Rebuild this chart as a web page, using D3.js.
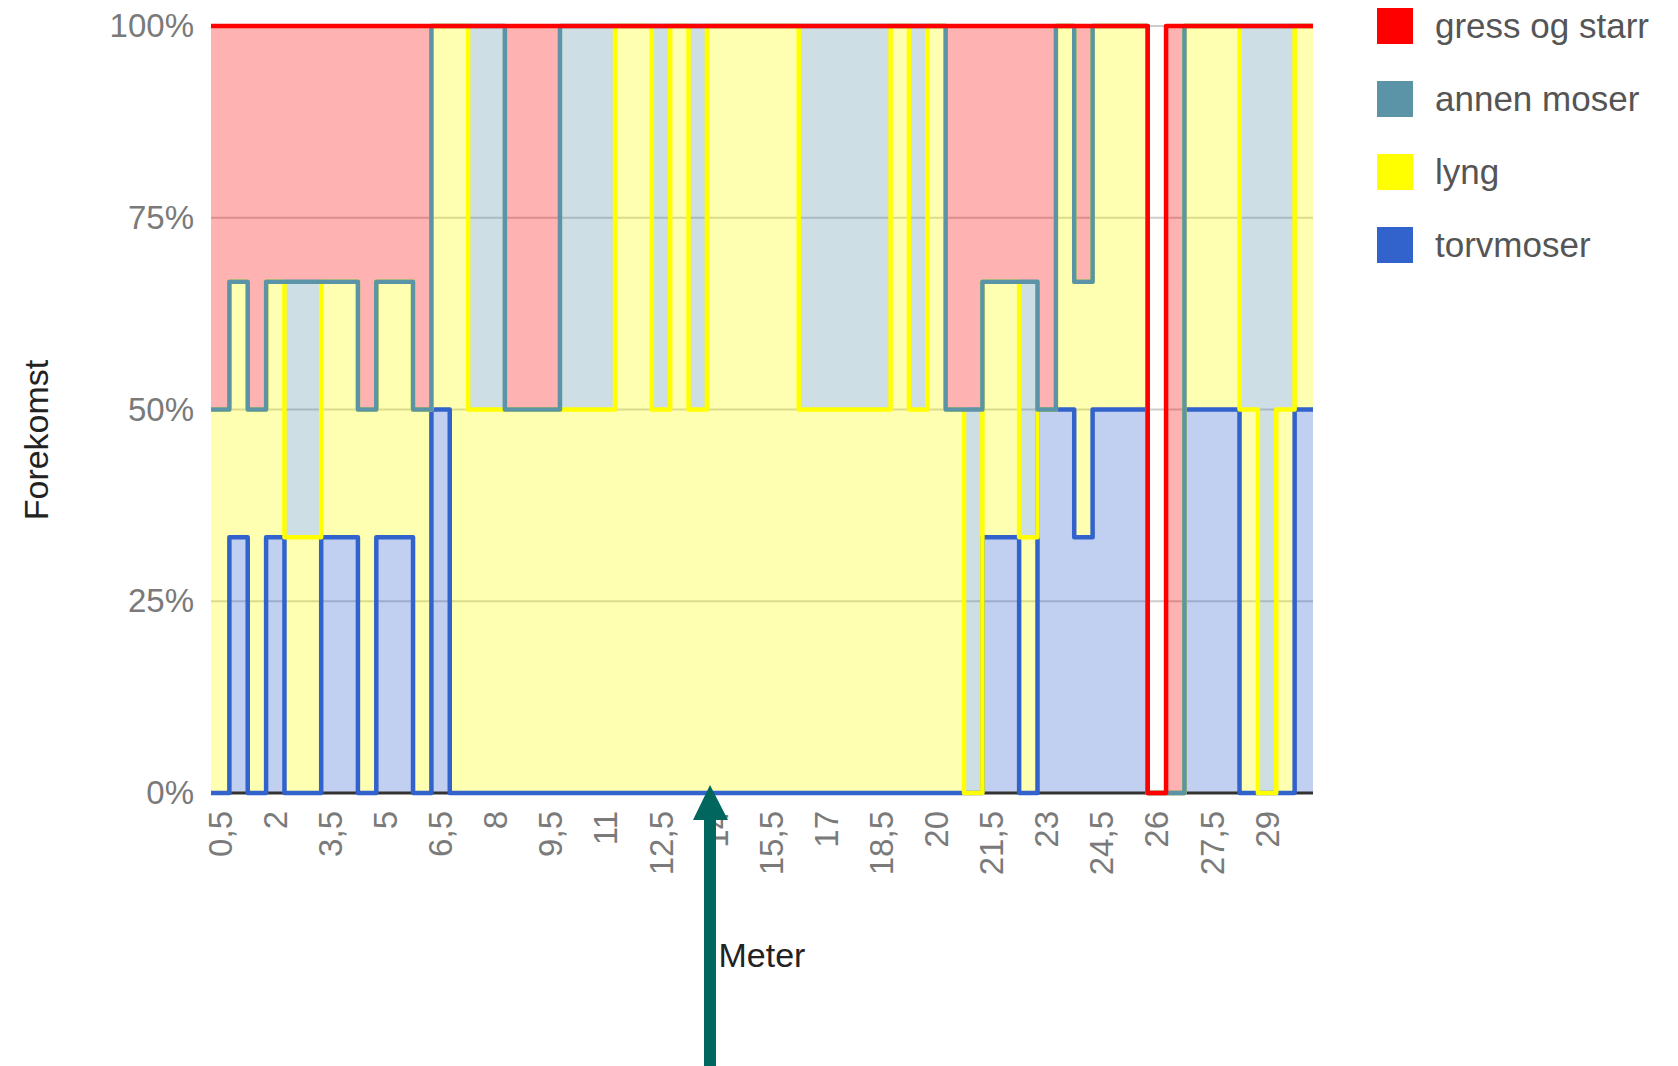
<!DOCTYPE html>
<html>
<head>
<meta charset="utf-8">
<script src="https://cdn.jsdelivr.net/npm/d3@7"></script>
<style>
    body { margin: 0; background: #fff; }
    svg { display: block; }
</style>
</head>
<body>
<div id="chart"></div>
<script>
// meter along the transect (one category per half meter)
var meters = [0.5, 1, 1.5, 2, 2.5, 3, 3.5, 4, 4.5, 5,
    5.5, 6, 6.5, 7, 7.5, 8, 8.5, 9, 9.5, 10,
    10.5, 11, 11.5, 12, 12.5, 13, 13.5, 14, 14.5, 15,
    15.5, 16, 16.5, 17, 17.5, 18, 18.5, 19, 19.5, 20,
    20.5, 21, 21.5, 22, 22.5, 23, 23.5, 24, 24.5, 25,
    25.5, 26, 26.5, 27, 27.5, 28, 28.5, 29, 29.5, 30];

var tickMeters = [0.5, 2, 3.5, 5, 6.5, 8, 9.5, 11, 12.5, 14, 15.5, 17, 18.5, 20, 21.5, 23, 24.5, 26, 27.5, 29];
var tickLabels = ["0,5", "2", "3,5", "5", "6,5", "8", "9,5", "11", "12,5", "14", "15,5", "17", "18,5", "20", "21,5", "23", "24,5", "26", "27,5", "29"];
var yTicks = [0, 0.25, 0.5, 0.75, 1];

// occurrence per meter (stacked as percent)
var torvmoser = [0, 1, 0, 1, 0, 0, 1, 1, 0, 1, 1, 0, 1, 0, 0, 0, 0, 0, 0, 0,
    0, 0, 0, 0, 0, 0, 0, 0, 0, 0, 0, 0, 0, 0, 0, 0, 0, 0, 0, 0,
    0, 0, 1, 1, 0, 1, 1, 1, 1, 1, 1, 0, 0, 1, 1, 1, 0, 0, 0, 1];
var lyng = [1, 1, 1, 1, 1, 1, 1, 1, 1, 1, 1, 1, 1, 1, 1, 1, 1, 1, 1, 1,
    1, 1, 1, 1, 1, 1, 1, 1, 1, 1, 1, 1, 1, 1, 1, 1, 1, 1, 1, 1,
    1, 0, 1, 1, 1, 0, 1, 1, 1, 1, 1, 0, 0, 1, 1, 1, 1, 0, 1, 1];
var annenMoser = [0, 0, 0, 0, 1, 1, 0, 0, 0, 0, 0, 0, 0, 0, 1, 1, 0, 0, 0, 1,
    1, 1, 0, 0, 1, 0, 1, 0, 0, 0, 0, 0, 1, 1, 1, 1, 1, 0, 1, 0,
    0, 1, 0, 0, 1, 0, 0, 0, 0, 0, 0, 0, 0, 0, 0, 0, 1, 1, 1, 0];
var gressOgStarr = [1, 1, 1, 1, 1, 1, 1, 1, 1, 1, 1, 1, 0, 0, 0, 0, 1, 1, 1, 0,
    0, 0, 0, 0, 0, 0, 0, 0, 0, 0, 0, 0, 0, 0, 0, 0, 0, 0, 0, 0,
    1, 1, 1, 1, 1, 1, 0, 1, 0, 0, 0, 0, 1, 0, 0, 0, 0, 0, 0, 0];

// bottom to top
var keys = ["torvmoser", "lyng", "annen moser", "gress og starr"];
var colors = {"torvmoser": "#3262cc", "lyng": "#ffff00", "annen moser": "#5a94a6", "gress og starr": "#ff0000"};
var legendOrder = ["gress og starr", "annen moser", "lyng", "torvmoser"];

var rows = meters.map(function (m, i) {
    return {"meter": m, "torvmoser": torvmoser[i], "lyng": lyng[i],
        "annen moser": annenMoser[i], "gress og starr": gressOgStarr[i]};
});

var W = 1678, H = 1066;
var plotLeft = 211, plotRight = 1313, plotTop = 26, plotBottom = 793;
var font = "Arial, 'Liberation Sans', sans-serif";

var svg = d3.select("#chart").append("svg")
    .attr("width", W)
    .attr("height", H);

var x = d3.scaleBand().domain(meters).range([plotLeft, plotRight]).padding(0);
var y = d3.scaleLinear().domain([0, 1]).range([plotBottom, plotTop]);
var bw = x.bandwidth();

var series = d3.stack().keys(keys).offset(d3.stackOffsetExpand)(rows);

//Gridlines
svg.append("g").selectAll("line")
    .data(yTicks)
    .join("line")
    .attr("x1", plotLeft)
    .attr("x2", plotRight)
    .attr("y1", function (d) { return y(d); })
    .attr("y2", function (d) { return y(d); })
    .attr("stroke", "#cccccc")
    .attr("stroke-width", 2);

// each category becomes a flat step across its band
function steps(s) {
    var pts = [];
    s.forEach(function (d) {
        var x0 = x(d.data.meter);
        pts.push({x: x0, y0: d[0], y1: d[1]});
        pts.push({x: x0 + bw, y0: d[0], y1: d[1]});
    });
    return pts;
}

var area = d3.area()
    .x(function (p) { return p.x; })
    .y0(function (p) { return y(p.y0); })
    .y1(function (p) { return y(p.y1); });

var line = d3.line()
    .x(function (p) { return p.x; })
    .y(function (p) { return y(p.y1); });

//Draw the areas
svg.append("g").selectAll("path")
    .data(series)
    .join("path")
    .attr("d", function (s) { return area(steps(s)); })
    .attr("fill", function (s) { return colors[s.key]; })
    .attr("fill-opacity", 0.3);

// baseline
svg.append("line")
    .attr("x1", plotLeft)
    .attr("x2", plotRight)
    .attr("y1", y(0))
    .attr("y2", y(0))
    .attr("stroke", "#333")
    .attr("stroke-width", 3);

//Draw the step lines
svg.append("g").selectAll("path")
    .data(series)
    .join("path")
    .attr("d", function (s) { return line(steps(s)); })
    .attr("fill", "none")
    .attr("stroke", function (s) { return colors[s.key]; })
    .attr("stroke-width", 4.5)
    .attr("stroke-linejoin", "round");

//Y axis
var yAxis = svg.append("g")
    .attr("transform", "translate(" + (plotLeft - 14) + ",0)")
    .call(d3.axisLeft(y).tickValues(yTicks).tickSize(0).tickFormat(d3.format(".0%")));
yAxis.select(".domain").remove();
yAxis.selectAll("text")
    .attr("font-family", font)
    .attr("font-size", 33)
    .attr("fill", "#7a7a7a");

//X axis
var xAxis = svg.append("g")
    .attr("transform", "translate(0," + plotBottom + ")")
    .call(d3.axisBottom(x).tickValues(tickMeters).tickSize(0)
        .tickFormat(function (d) { return tickLabels[tickMeters.indexOf(d)]; }));
xAxis.select(".domain").remove();
xAxis.selectAll("text")
    .attr("font-family", font)
    .attr("font-size", 33)
    .attr("fill", "#7a7a7a")
    .attr("text-anchor", "end")
    .attr("dy", "0.35em")
    .attr("transform", "translate(0,18) rotate(-90)")
    .attr("x", 0)
    .attr("y", 0);

//Axis titles
svg.append("text")
    .attr("font-family", font)
    .attr("font-size", 34)
    .attr("fill", "#222")
    .attr("text-anchor", "middle")
    .attr("x", (plotLeft + plotRight) / 2)
    .attr("y", 967)
    .text("Meter");

svg.append("text")
    .attr("font-family", font)
    .attr("font-size", 34)
    .attr("fill", "#222")
    .attr("text-anchor", "middle")
    .attr("transform", "translate(48,440) rotate(-90)")
    .text("Forekomst");

//Legend
var legend = svg.append("g").selectAll("g")
    .data(legendOrder)
    .join("g")
    .attr("transform", function (d, i) { return "translate(1377," + (8 + 73 * i) + ")"; });

legend.append("rect")
    .attr("width", 36)
    .attr("height", 36)
    .attr("fill", function (d) { return colors[d]; });

legend.append("text")
    .attr("font-family", font)
    .attr("font-size", 35)
    .attr("fill", "#555")
    .attr("x", 58)
    .attr("y", 18)
    .attr("dy", "0.35em")
    .text(function (d) { return d; });

//Arrow pointing at the axis
svg.append("path")
    .attr("d", "M704,1066 L704,820 L693,820 L710,785 L728,820 L716,820 L716,1066 Z")
    .attr("fill", "#00665e");
</script>
</body>
</html>
